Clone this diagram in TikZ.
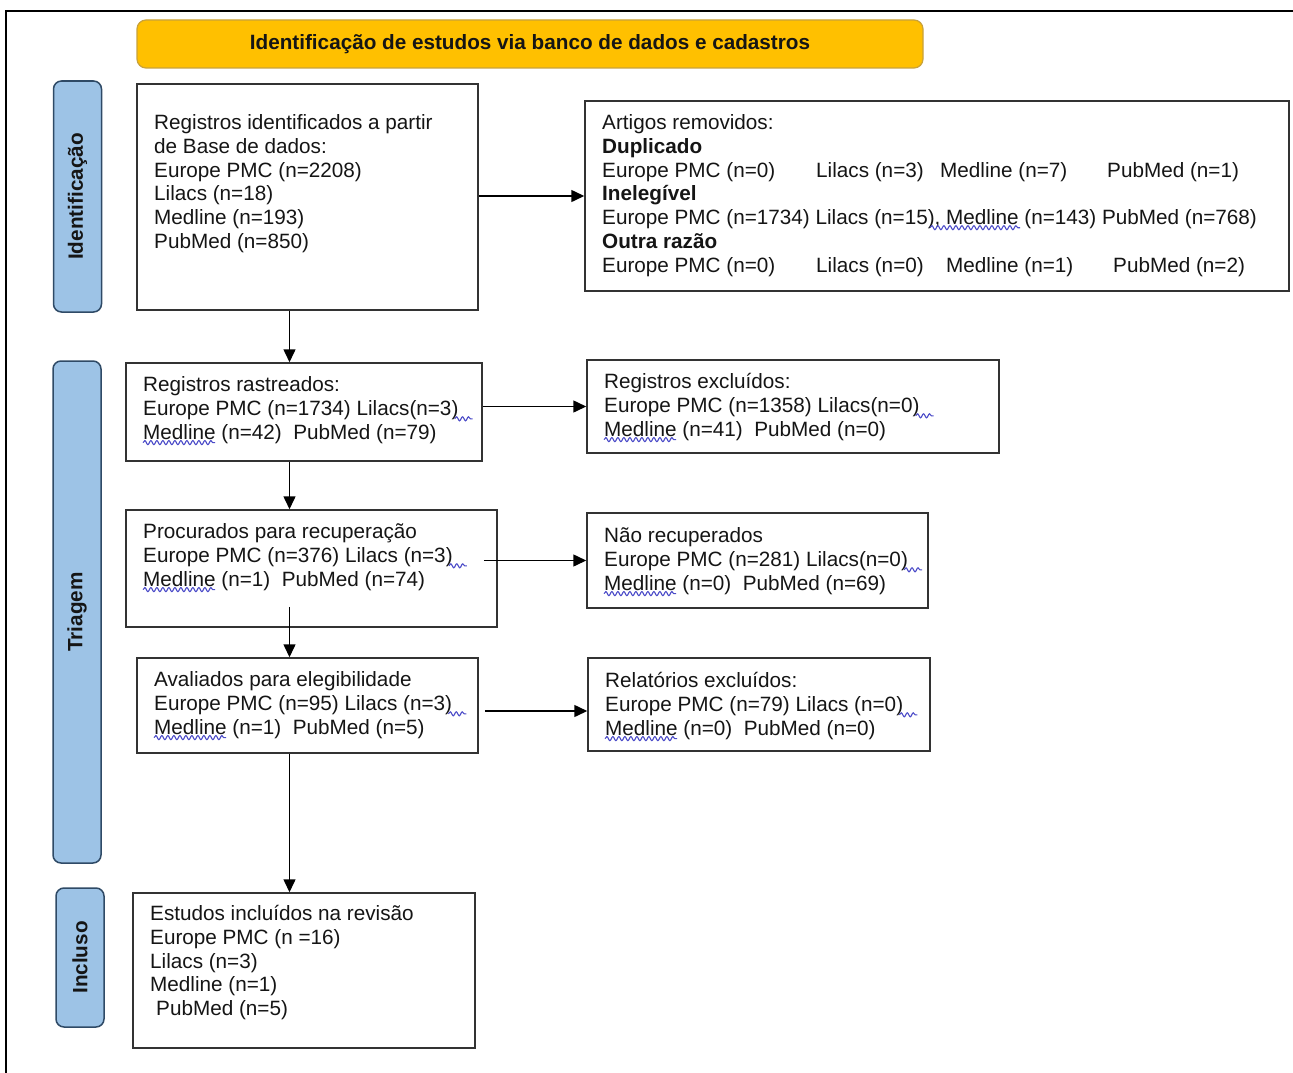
\documentclass[tikz,border=0pt]{standalone}
\usepackage{fontspec}
\setmainfont{Liberation Sans}
\usetikzlibrary{arrows.meta,calc,decorations.pathmorphing}
\definecolor{ink}{HTML}{151515}
\definecolor{boxline}{HTML}{333333}
\definecolor{banfill}{HTML}{FFC000}
\definecolor{banline}{HTML}{C9A23A}
\definecolor{lanefill}{HTML}{9DC3E6}
\definecolor{laneline}{HTML}{2F4A66}
\definecolor{spell}{HTML}{4B4BC8}
\begin{document}
\begin{tikzpicture}[x=1pt,y=-1pt,
  box/.style={draw=boxline,line width=1.5pt,inner sep=0pt,rectangle},
  lane/.style={draw=laneline,fill=lanefill,line width=1.5pt,rounded corners=8pt,inner sep=0pt,minimum width=48pt},
  lanetxt/.style={rotate=90,inner sep=0pt,font=\fontsize{20.7}{24}\selectfont\bfseries,text=ink},
  txt/.style={anchor=base west,inner sep=0pt,font=\fontsize{20.7}{24}\selectfont,text=ink},
  btxt/.style={anchor=base west,inner sep=0pt,font=\fontsize{20.7}{24}\selectfont\bfseries,text=ink},
  arr/.style={-{Triangle[length=13pt,width=12pt]},line width=1.5pt,draw=black},
  wave/.style={draw=spell,line width=1.1pt,decorate,decoration={snake,amplitude=2pt,segment length=6pt}}
]
\useasboundingbox (0,0) rectangle (1293,1073);
\fill[white] (0,0) rectangle (1293,1073);
% outer frame
\draw[line width=1.5pt] (6,1073) -- (6,11) -- (1293,11);

% banner
\node[draw=banline,fill=banfill,line width=1.2pt,rounded corners=9pt,minimum width=786pt,minimum height=48pt,inner sep=0pt,
      font=\fontsize{20.7}{24}\selectfont\bfseries,text=ink] (ban) at (530,44) {Identificação de estudos via banco de dados e cadastros};

% lanes
\node[lane,minimum height=231pt] (idl) at (77.5,196.5) {};
\node[lanetxt] (idlab) at (idl) {Identificação};
\node[lane,minimum height=502pt] (tril) at (77,612) {};
\node[lanetxt] (trilab) at (tril) {Triagem};
\node[lane,minimum height=139pt] (incl) at (80,957.5) {};
\node[lanetxt] (inclab) at (incl) {Incluso};

% boxes
\node[box,minimum width=341pt,minimum height=226pt] (id) at (307.5,197) {};
\node[box,minimum width=704pt,minimum height=190pt] (rem) at (937,196) {};
\node[box,minimum width=356pt,minimum height=98pt] (ras) at (304,412) {};
\node[box,minimum width=412pt,minimum height=93pt] (exc) at (793,406.5) {};
\node[box,minimum width=371pt,minimum height=117pt] (proc) at (311.5,568.5) {};
\node[box,minimum width=341pt,minimum height=95pt] (nrec) at (757.5,560.5) {};
\node[box,minimum width=341pt,minimum height=95pt] (aval) at (307.5,705.5) {};
\node[box,minimum width=342pt,minimum height=93pt] (rel) at (759,704.5) {};
\node[box,minimum width=342pt,minimum height=155pt] (est) at (304,970.5) {};

% id text
\node[txt] (id1) at (154,129.5) {Registros identificados a partir};
\node[txt] (id2) at (154,153.3) {de Base de dados:};
\node[txt] (id3) at (154,177.1) {Europe PMC (n=2208)};
\node[txt] (id4) at (154,200.9) {Lilacs (n=18)};
\node[txt] (id5) at (154,224.7) {Medline (n=193)};
\node[txt] (id6) at (154,248.5) {PubMed (n=850)};

% removed text
\node[txt] (rem1) at (602,129.5) {Artigos removidos:};
\node[btxt] (rem2) at (602,153.3) {Duplicado};
\node[txt] (rem3a) at (602,177.1) {Europe PMC (n=0)};
\node[txt] (rem3b) at (816,177.1) {Lilacs (n=3)};
\node[txt] (rem3c) at (940,177.1) {Medline (n=7)};
\node[txt] (rem3d) at (1107,177.1) {PubMed (n=1)};
\node[btxt] (rem4) at (602,200.9) {Inelegível};
\node[txt] (rem5) at (602,224.7) {Europe PMC (n=1734) Lilacs (n=15), Medline (n=143) PubMed (n=768)};
\node[btxt] (rem6) at (602,248.5) {Outra razão};
\node[txt] (rem7a) at (602,272.3) {Europe PMC (n=0)};
\node[txt] (rem7b) at (816,272.3) {Lilacs (n=0)};
\node[txt] (rem7c) at (946,272.3) {Medline (n=1)};
\node[txt] (rem7d) at (1113,272.3) {PubMed (n=2)};
\draw[wave] ($(rem5.base west)+(328,3)$) -- ++(90,0);

% rastreados
\node[txt] (ras1) at (143,391.5) {Registros rastreados:};
\node[txt] (ras2) at (143,415.3) {Europe PMC (n=1734) Lilacs(n=3)};
\node[txt] (ras3) at (143,439.1) {Medline (n=42)~~PubMed (n=79)};
% excluidos
\node[txt] (exc1) at (604,388.5) {Registros excluídos:};
\node[txt] (exc2) at (604,412.3) {Europe PMC (n=1358) Lilacs(n=0)};
\node[txt] (exc3) at (604,436.1) {Medline (n=41)~~PubMed (n=0)};
% procurados
\node[txt] (proc1) at (143,538.5) {Procurados para recuperação};
\node[txt] (proc2) at (143,562.3) {Europe PMC (n=376) Lilacs (n=3)};
\node[txt] (proc3) at (143,586.1) {Medline (n=1)~~PubMed (n=74)};
% nao recuperados
\node[txt] (nrec1) at (604,542.5) {Não recuperados};
\node[txt] (nrec2) at (604,566.3) {Europe PMC (n=281) Lilacs(n=0)};
\node[txt] (nrec3) at (604,590.1) {Medline (n=0)~~PubMed (n=69)};
% avaliados
\node[txt] (aval1) at (154,686.5) {Avaliados para elegibilidade};
\node[txt] (aval2) at (154,710.3) {Europe PMC (n=95) Lilacs (n=3)};
\node[txt] (aval3) at (154,734.1) {Medline (n=1)~~PubMed (n=5)};
% relatorios
\node[txt] (rel1) at (605,687.5) {Relatórios excluídos:};
\node[txt] (rel2) at (605,711.3) {Europe PMC (n=79) Lilacs (n=0)};
\node[txt] (rel3) at (605,735.1) {Medline (n=0)~~PubMed (n=0)};
% estudos
\node[txt] (est1) at (150,920.5) {Estudos incluídos na revisão};
\node[txt] (est2) at (150,944.3) {Europe PMC (n =16)};
\node[txt] (est3) at (150,968.1) {Lilacs (n=3)};
\node[txt] (est4) at (150,991.9) {Medline (n=1)};
\node[txt] (est5) at (156,1015.7) {PubMed (n=5)};

% spell-check waves
\foreach \b in {ras,exc,proc,nrec,aval,rel}{
  \draw[wave] ($(\b2.base east)+(-4,3.5)$) -- ++(18,0);
  \draw[wave] ($(\b3.base west)+(0,3.5)$) -- ++(72,0);
}

% arrows
\coordinate (ax) at (289.5,0);
\draw[arr] (id.east |- rem.west) -- (rem.west);
\draw[arr] (id.south -| ax) -- (ras.north -| ax);
\draw[arr] (ras.east |- exc.west) -- (exc.west);
\draw[arr] (ras.south -| ax) -- (proc.north -| ax);
\draw[arr] ($(proc.east |- nrec.west)+(-14,0)$) -- (nrec.west);
\draw[arr] ($(proc.south -| ax)+(0,-21)$) -- (aval.north -| ax);
\draw[arr] ($(aval.east)+(6,5.5)$) -- ($(aval.east -| rel.west)+(0,5.5)$);
\draw[arr] (aval.south -| ax) -- (est.north -| ax);
\end{tikzpicture}
\end{document}
